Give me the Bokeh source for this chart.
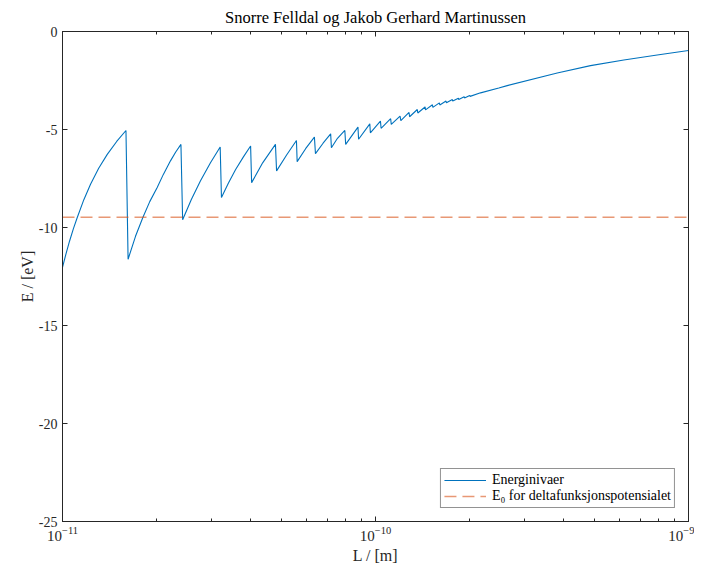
from bokeh.plotting import figure
from bokeh.models import Range1d, LogAxis, LinearAxis, FixedTicker, Legend, LegendItem
from bokeh.embed import file_html
from bokeh.resources import INLINE

# ---- data ----
L_data = [
    1.0e-11, 1.025e-11, 1.053e-11, 1.083e-11, 1.114e-11, 1.17e-11, 1.229e-11,
    1.305e-11, 1.39e-11, 1.49e-11, 1.595e-11,
    1.62e-11, 1.711e-11, 1.806e-11, 1.90e-11, 2.007e-11, 2.10e-11, 2.213e-11,
    2.30e-11, 2.39e-11,
    2.42e-11, 2.58e-11, 2.76e-11, 2.97e-11, 3.19e-11,
    3.22e-11, 3.39e-11, 3.57e-11, 3.78e-11, 3.99e-11,
    4.02e-11, 4.36e-11, 4.79e-11,
    4.83e-11, 5.2e-11, 5.59e-11,
    5.62e-11, 5.98e-11, 6.38e-11,
    6.43e-11, 6.8e-11, 7.19e-11,
    7.23e-11, 7.56e-11, 7.98e-11,
    8.03e-11, 8.79e-11,
    8.83e-11, 9.59e-11,
    9.63e-11, 1.037e-10,
    1.042e-10, 1.118e-10,
    1.123e-10, 1.198e-10,
    1.205e-10, 1.28e-10,
    1.285e-10, 1.36e-10,
    1.365e-10, 1.44e-10,
    1.445e-10, 1.52e-10,
    1.525e-10, 1.60e-10,
    1.605e-10, 1.68e-10,
    1.685e-10, 1.76e-10,
    1.765e-10, 1.84e-10,
    1.845e-10, 1.92e-10,
    1.925e-10, 2.00e-10,
    2.005e-10, 2.166e-10, 2.477e-10, 2.635e-10, 3.807e-10,
    4.864e-10, 6.214e-10, 7.943e-10, 1.0e-9,
]
E_data = [
    -12.03, -11.37, -10.7, -10.07, -9.5, -8.58, -7.79,
    -6.98, -6.27, -5.61, -5.05,
    -11.62, -10.45, -9.49, -8.68, -7.96, -7.29, -6.6,
    -6.15, -5.76,
    -9.60, -8.57, -7.62, -6.70, -5.89,
    -8.47, -7.73, -7.05, -6.41, -5.84,
    -7.71, -6.70, -5.76,
    -7.11, -6.30, -5.56,
    -6.64, -5.98, -5.39,
    -6.23, -5.70, -5.22,
    -5.93, -5.45, -5.05,
    -5.76, -4.88,
    -5.50, -4.71,
    -5.17, -4.57,
    -4.94, -4.45,
    -4.74, -4.32,
    -4.55, -4.13,
    -4.35, -3.98,
    -4.16, -3.85,
    -4.00, -3.74,
    -3.87, -3.64,
    -3.75, -3.55,
    -3.64, -3.47,
    -3.55, -3.40,
    -3.47, -3.33,
    -3.39, -3.26,
    -3.31, -3.13, -2.88, -2.76, -2.12,
    -1.74, -1.45, -1.20, -0.97,
]
E0 = -9.48
L_limits = [1e-11, 1e-9]
E_limits = [-25, 0]
x_major = [1e-11, 1e-10, 1e-9]
x_minor = [2e-11, 3e-11, 4e-11, 5e-11, 6e-11, 7e-11, 8e-11, 9e-11,
           2e-10, 3e-10, 4e-10, 5e-10, 6e-10, 7e-10, 8e-10, 9e-10]
y_major = [-25, -20, -15, -10, -5, 0]
y_labels = ["-25", "-20", "-15", "-10", "-5", "0"]

title_text = "Snorre Felldal og Jakob Gerhard Martinussen"
label_line = "Energinivaer"
label_e0 = "E\u2080 for deltafunksjonspotensialet"

FONT = "Liberation Serif"
AX = "#262626"

p = figure(width=694, height=566, x_axis_type="log",
           x_range=Range1d(*L_limits), y_range=Range1d(*E_limits),
           output_backend="svg", toolbar_location=None, title=title_text)
p.min_border_left = 62
p.min_border_right = 6
p.min_border_top = 30
p.min_border_bottom = 44
p.background_fill_color = "white"
p.border_fill_color = "white"
p.outline_line_color = AX
p.xgrid.visible = False
p.ygrid.visible = False

p.title.text_font = FONT
p.title.text_font_style = "normal"
p.title.text_font_size = "16.5px"
p.title.align = "center"
p.title.text_color = "black"

xt = FixedTicker(ticks=x_major, minor_ticks=x_minor)
yt = FixedTicker(ticks=y_major)

def style(ax, labels=True):
    ax.axis_line_color = AX
    ax.major_tick_line_color = AX
    ax.minor_tick_line_color = AX
    ax.major_tick_in = 5
    ax.major_tick_out = 0
    ax.minor_tick_in = 3
    ax.minor_tick_out = 0
    ax.major_label_text_font = FONT
    ax.major_label_text_color = AX if labels else None
    ax.major_label_text_font_size = "14px" if labels else "1px"
    ax.axis_label_text_font = FONT
    ax.axis_label_text_font_style = "normal"
    ax.axis_label_text_font_size = "16px"
    ax.axis_label_text_color = AX

xa = p.xaxis[0]
xa.ticker = xt
style(xa)
xa.major_label_text_font_size = "15px"
xa.major_label_standoff = 5
xa.axis_label = "L / [m]"
xa.axis_label_standoff = 3

ya = p.yaxis[0]
ya.ticker = yt
style(ya)
ya.major_label_overrides = dict(zip(y_major, y_labels))
ya.minor_tick_line_color = None
ya.major_label_standoff = 5
ya.axis_label = "E / [eV]"
ya.axis_label_standoff = 0

top = LogAxis(ticker=xt)
style(top, labels=False)
top.major_label_standoff = 0
p.add_layout(top, "above")

right = LinearAxis(ticker=yt)
style(right, labels=False)
right.minor_tick_line_color = None
right.major_label_standoff = 0
p.add_layout(right, "right")

r1 = p.line(L_data, E_data, line_color="#0072BD", line_width=1.1)
r2 = p.line(L_limits, [E0, E0], line_color="#D95319", line_alpha=0.6,
            line_width=1.5, line_dash="12 6")

legend = Legend(items=[LegendItem(label=label_line, renderers=[r1]),
                       LegendItem(label=label_e0, renderers=[r2])],
                location="bottom_right")
legend.border_line_color = "#262626"
legend.border_line_width = 1
legend.background_fill_color = "white"
legend.label_text_font = FONT
legend.label_text_font_size = "14px"
legend.label_text_color = "black"
legend.glyph_width = 42
legend.glyph_height = 14
legend.label_height = 14
legend.spacing = 0
legend.padding = 3
legend.margin = 13
legend.label_standoff = 6
p.add_layout(legend)

open("out.html", "w").write(file_html(p, INLINE))
